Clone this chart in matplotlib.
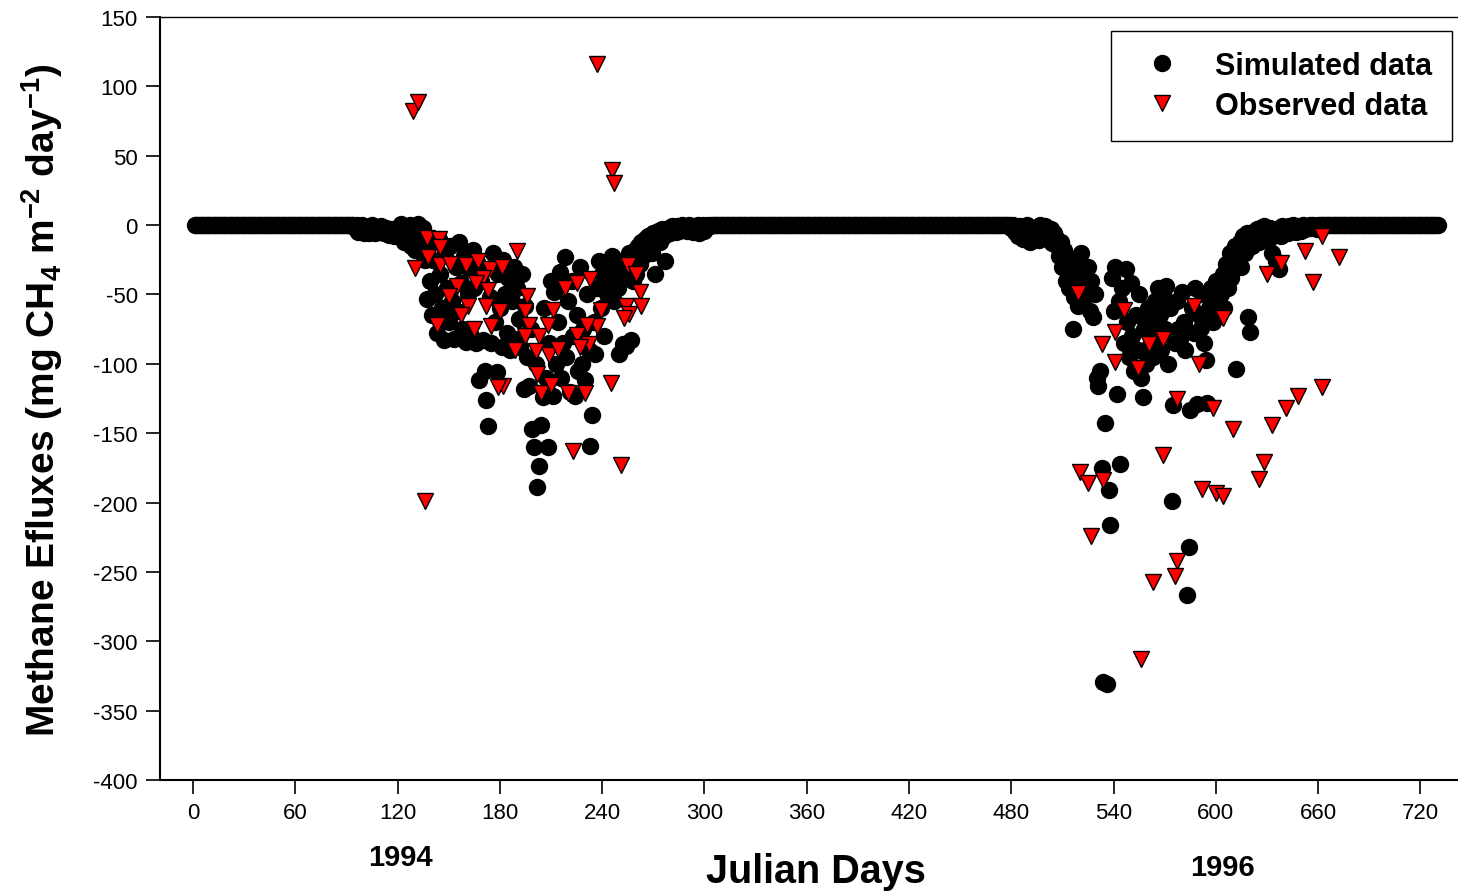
import numpy as np
import matplotlib
matplotlib.use("Agg")
import matplotlib.pyplot as plt

plt.rcParams['font.family'] = ['Liberation Sans', 'DejaVu Sans']
plt.rcParams['axes.unicode_minus'] = False
plt.rcParams['mathtext.fontset'] = 'custom'
plt.rcParams['mathtext.bf'] = 'Liberation Sans:bold'
plt.rcParams['mathtext.rm'] = 'Liberation Sans:bold'
plt.rcParams['mathtext.default'] = 'bf'

# simulated daily fluxes, active seasons only (all other days are 0)
sim94_start = 95
sim94 = [-2, 0, -5, -4, 0, -6, -5, -2, -6, -4,            # 95-104
         0, -5, -6, -3, -5, -1, -4, -6, -2, -5,            # 105-114
         -7, -3, -6, -8, -4, -3, -8, 1, -6, -12,           # 115-124
         -2, -10, 0, -15, -5, -18, -8, 1, -12, -20,        # 125-134
         -2, -25, -53, -14, -40, -65, -25, -50, -78, -10,  # 135-144
         -35, -60, -83, -20, -45, -70, -15, -55, -82, -30,
         -62, -12, -42, -75, -22, -84, -50, -32, -80, -18,
         -45, -85, -28, -112, -40, -83, -105, -126, -145, -52,
         -85, -20, -70, -106, -35, -60, -88, -25, -50, -78,
         -38, -90, -55, -30, -82, -45, -68, -88, -35, -118,
         -58, -95, -116, -75, -147, -160, -100, -189, -174, -144,  # 195-204
         -124, -60, -110, -160, -85, -40, -123, -48, -100, -70,
         -34, -110, -85, -23, -95, -55, -120, -40, -80, -123,
         -65, -105, -30, -100, -75, -112, -50, -90, -159, -137,
         -70, -93, -45, -26, -60, -35, -80, -28, -50, -26,
         -40, -22, -55, -30, -45, -93, -35, -86, -25, -87,        # 245-254
         -30, -20, -83, -40, -18, -35, -15, -28, -12, -22,
         -10, -18, -8, -14, -20, -6, -35, -10, -4, -12,
         -3, -8, -26, -5, -2, -6, -1, -3, -5, -1,
         -4, -2, 0, -3, -1, -4, 0, -2, -5, -1,
         -3, 0, -6, -2, 0, -4, -2, 0, -1, 0]                      # 295-304

sim96_start = 480
sim96 = [-2, 0, -5, -3, -8, -1, -6, -10, -4, 0, -7, -12, -3, -9, -2, -6, -11, 0, -4, -8,
         -1, -5, -10, -3, -13, -6, -9, -15, -22, -12, -30, -18, -40, -25, -45, -35, -75, -52, -28, -58,
         -42, -20, -55, -35, -48, -30, -62, -40, -66, -50, -110, -116, -105, -175, -329, -143, -331, -191, -216, -38,
         -62, -30, -122, -55, -172, -45, -85, -32, -70, -95, -42, -80, -105, -65, -90, -50, -110, -124, -75, -100,
         -60, -88, -70, -95, -55, -80, -45, -65, -90, -50, -75, -44, -100, -60, -199, -130, -85, -55, -75, -82,
         -48, -70, -90, -267, -232, -133, -60, -78, -45, -129, -65, -74, -50, -85, -97, -128, -60, -45, -70, -55,
         -40, -65, -41, -50, -35, -60, -28, -45, -20, -38, -29, -15, -104, -22, -12, -30, -8, -20, -6, -66,
         -77, -15, -5, -10, -3, -12, -2, -8, -1, -5, -4, -10, -2, -20, -6, -26, -3, -32, -8, -1,
         -5, -2, -6, -1, -4, 0, -3, -5, -1, -2, -4, 0, -3, -1, -2, 0, -2, 0, -1, -3,
         0]

last_day = 730

# observed fluxes
obs_days = [129, 132, 237, 246, 247,
            137, 144, 145, 138, 130, 145, 151, 160, 167, 174, 181, 190, 170, 155, 150,
            173, 166, 161, 157, 172, 180, 196, 195, 143, 165, 175, 197, 195, 189, 203,
            208, 201, 211, 209, 214, 218, 225, 233, 225, 232, 227, 239, 237, 231, 202,
            182, 179, 204, 210, 220, 230, 245, 223, 251, 136, 255, 260, 262, 254, 256,
            253, 263,
            519, 546, 587, 604, 541, 533, 541, 554, 561, 569, 590, 577, 598, 610, 633,
            641, 648, 662, 569, 520, 525, 534, 628, 625, 592, 600, 604, 662, 652, 638,
            630, 672, 657, 527, 577, 576, 563, 556]
obs_vals = [82, 89, 116, 40, 30,
            -9, -10, -16, -23, -31, -29, -28, -29, -26, -32, -30, -19, -38, -44, -51,
            -47, -42, -58, -65, -58, -62, -51, -62, -72, -75, -73, -72, -80, -90, -80,
            -72, -91, -61, -94, -89, -45, -42, -39, -79, -86, -88, -61, -73, -72, -107,
            -116, -117, -121, -115, -121, -121, -114, -163, -173, -199, -29, -35, -48, -58, -64,
            -67, -58,
            -49, -61, -58, -67, -77, -86, -99, -103, -86, -82, -100, -125, -132, -147, -144,
            -132, -123, -117, -166, -178, -186, -184, -171, -183, -190, -193, -195, -8, -19, -27,
            -35, -23, -41, -224, -242, -253, -257, -313]

sim_days = np.arange(1, last_day + 1)
sim_vals = np.zeros(last_day)
sim_vals[sim94_start - 1:sim94_start - 1 + len(sim94)] = sim94
sim_vals[sim96_start - 1:sim96_start - 1 + len(sim96)] = sim96

fig = plt.figure(figsize=(14.58, 8.95), dpi=100)
ax = fig.add_axes([160 / 1458, 1 - 781 / 895, 1 - 160 / 1458, (781 - 18) / 895])

ax.plot(sim_days, sim_vals, 'o', color='black', markersize=11.5, label='Simulated data')
ax.plot(obs_days, obs_vals, 'v', color='#ff0000', markeredgecolor='black', markeredgewidth=1.0,
        markersize=12, label='Observed data')

ax.set_xlim(-19.4, 742)
ax.set_ylim(-400, 150)
ax.set_xticks(np.arange(0, 721, 60))
ax.set_yticks(np.arange(-400, 151, 50))
ax.tick_params(direction='out', length=10, width=1.2, labelsize=16, pad=6)
ax.spines['right'].set_visible(False)
for s in ['left', 'bottom']:
    ax.spines[s].set_linewidth(1.5)
ax.spines['top'].set_linewidth(1.0)

leg = ax.legend(loc='upper right', bbox_to_anchor=(1452 / 1458, 1 - 32 / 895),
                bbox_transform=fig.transFigure, fancybox=False, framealpha=1,
                edgecolor='black', prop={'weight': 'bold', 'size': 22},
                borderpad=0.65, handlelength=2.0, handletextpad=0.75, labelspacing=0.32,
                borderaxespad=0)
leg.get_frame().set_linewidth(1.0)

fig.text(42 / 1458, 1 - 400 / 895, r'Methane Efluxes (mg CH$_4$ m$^{-2}$ day$^{-1}$)',
         rotation=90, ha='center', va='center', fontsize=28, fontweight='bold')
fig.text(816 / 1458, 1 - 872 / 895, 'Julian Days', ha='center', va='center',
         fontsize=28.5, fontweight='bold')
fig.text(400 / 1458, 1 - 858 / 895, '1994', ha='center', va='center', fontsize=21, fontweight='bold')
fig.text(1222 / 1458, 1 - 868 / 895, '1996', ha='center', va='center', fontsize=21, fontweight='bold')

fig.savefig('out.png', dpi=100)
